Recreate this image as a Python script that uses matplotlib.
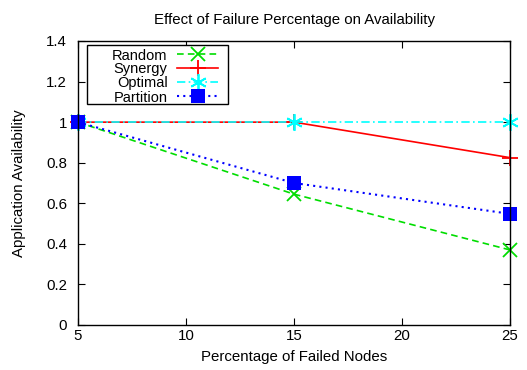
import matplotlib
matplotlib.use("Agg")
import matplotlib.pyplot as plt
from matplotlib.patches import Rectangle

x = [5, 15, 25]
random_v = [1.0, 0.645, 0.37]
synergy_v = [1.0, 1.0, 0.825]
optimal_v = [1.0, 1.0, 1.0]
partition_v = [1.0, 0.70, 0.548]

xticks = [5, 10, 15, 20, 25]
yticks = [0, 0.2, 0.4, 0.6, 0.8, 1, 1.2, 1.4]
ytick_labels = ["0", "0.2", "0.4", "0.6", "0.8", "1", "1.2", "1.4"]

plt.rcParams['font.family'] = ['Liberation Sans', 'DejaVu Sans']
fs = 10.8
W, H = 527, 370

fig = plt.figure(figsize=(5.27, 3.7), dpi=100)
ax = fig.add_axes([78/W, 1-325/H, (510-78)/W, (325-41)/H])

ax.plot(x, random_v, color='#00dd00', ls=(0, (4, 2.5)), lw=1.2, marker='x', ms=10, mew=1.3, label='Random', clip_on=False)
ax.plot(x, synergy_v, color='red', ls='-', lw=1.2, marker='+', ms=12, mew=1.3, label='Synergy', clip_on=False)
ax.plot(x, optimal_v, color='cyan', ls=(0, (5, 2, 1, 2)), lw=1.2, marker=(6, 2, 0), ms=12, mew=1.3, label='Optimal', clip_on=False)
ax.plot(x, partition_v, color='blue', ls=(0, (1, 2)), lw=1.5, marker='s', ms=10, mew=0, label='Partition', clip_on=False)

ax.set_xlim(5, 25)
ax.set_ylim(0, 1.4)
ax.set_xticks(xticks)
ax.set_yticks(yticks)
ax.set_yticklabels(ytick_labels)
ax.tick_params(direction='in', top=True, right=True, length=5, labelsize=fs)
ax.tick_params(axis='x', pad=3)
ax.tick_params(axis='y', pad=8)
for s in ax.spines.values():
    s.set_linewidth(1.0)

ax.set_title('Effect of Failure Percentage on Availability', fontsize=fs, pad=12)
ax.set_xlabel('Percentage of Failed Nodes', fontsize=fs, labelpad=5)
ax.set_ylabel('Application Availability', fontsize=fs, labelpad=14)

# legend frame (drawn separately to match spacing)
ax.add_patch(Rectangle((87/W, 1-104/H), 141/W, 59/H, transform=fig.transFigure,
                       facecolor='white', edgecolor='black', lw=1.0, zorder=4, clip_on=False))
leg = ax.legend(loc='upper right', bbox_to_anchor=(218/W, 1-48.5/H), bbox_transform=fig.transFigure,
                markerfirst=False, fontsize=10.5, frameon=False,
                handlelength=2.8, labelspacing=0.0, borderpad=0,
                handletextpad=0.65, borderaxespad=0)
leg.set_zorder(5)

fig.savefig('out.png', dpi=100)
